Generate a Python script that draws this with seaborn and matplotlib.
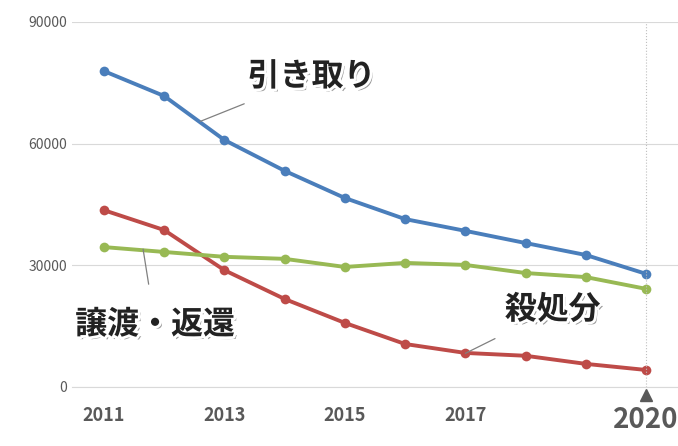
import matplotlib
matplotlib.use("Agg")
import matplotlib.pyplot as plt
import matplotlib.patheffects as pe
import seaborn as sns
import pandas as pd

years = [2011, 2012, 2013, 2014, 2015, 2016, 2017, 2018, 2019, 2020]
hikitori = [77900, 71750, 60900, 53300, 46600, 41400, 38500, 35500, 32550, 27900]
satsushobun = [43600, 38700, 28800, 21700, 15800, 10600, 8400, 7700, 5700, 4200]
joto_henkan = [34500, 33300, 32100, 31600, 29600, 30600, 30100, 28100, 27100, 24200]
xtick_years = [2011, 2013, 2015, 2017, 2020]
yticks = [0, 30000, 60000, 90000]

df = pd.DataFrame({"year": years * 3,
                   "value": hikitori + satsushobun + joto_henkan,
                   "series": ["引き取り"] * 10 + ["殺処分"] * 10 + ["譲渡・返還"] * 10})
colors = {"引き取り": "#4a7ebb", "殺処分": "#be4b48", "譲渡・返還": "#98b954"}

plt.rcParams["font.family"] = "Noto Sans CJK JP"
fig = plt.figure(figsize=(6.78, 4.46), dpi=100)
ax = fig.add_axes([72 / 678, 1 - 387 / 446, (678 - 72) / 678, 365 / 446])
sns.lineplot(data=df, x="year", y="value", hue="series", palette=colors,
             marker="o", markersize=7, markeredgewidth=0, linewidth=2.8,
             legend=False, ax=ax)

ax.set_xlim(2010.47, 2020.53)
ax.set_ylim(0, 90000)
ax.set_yticks(yticks)
ax.set_yticklabels([str(v) for v in yticks], color="#595959", fontsize=10)
ax.set_xticks(xtick_years)
ax.set_xticklabels([str(y) for y in xtick_years], color="#595959",
                   fontsize=13, fontweight="bold")
lbl = ax.get_xticklabels()[-1]
lbl.set_fontsize(20)
ax.tick_params(length=0, axis="both")
ax.tick_params(axis="x", pad=14)
ax.set_xlabel("")
ax.set_ylabel("")
ax.grid(axis="y", color="#d9d9d9", linewidth=0.8)
for s in ["top", "right", "left"]:
    ax.spines[s].set_visible(False)
ax.spines["bottom"].set_color("#d9d9d9")
ax.axvline(2020, color="#bfbfbf", linestyle=":", linewidth=0.8)
ax.plot([2020], [-2000], marker="^", color="#595959", markersize=8, clip_on=False)

fx = [pe.withSimplePatchShadow(offset=(2, -2), shadow_rgbFace="#7f7f7f", alpha=0.8),
      pe.withStroke(linewidth=4, foreground="white")]

def label(text, xy, xytext):
    ax.annotate(text, xy=xy, xytext=xytext, fontsize=23, fontweight="bold",
                color="#222222", ha="center", va="center", path_effects=fx,
                arrowprops=dict(arrowstyle="-", color="#808080", lw=0.9, shrinkA=16, shrinkB=0))

label("引き取り", (2012.6, 65500), (2014.45, 76500))
label("殺処分", (2017.0, 8300), (2018.45, 19000))
label("譲渡・返還", (2011.65, 34000), (2011.85, 15300))

fig.savefig("out.png", dpi=100)
